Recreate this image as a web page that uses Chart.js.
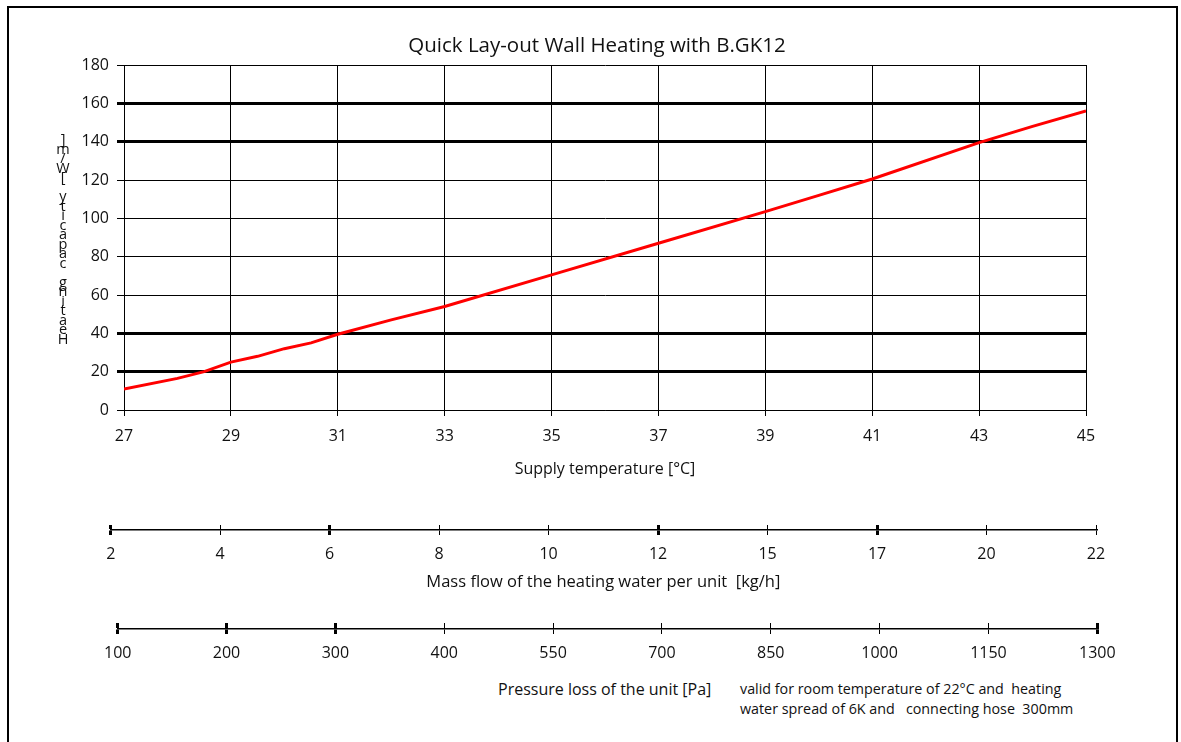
<!DOCTYPE html>
<html>
<head>
<meta charset="utf-8">
<script src="https://cdn.jsdelivr.net/npm/chart.js@4.4.0/dist/chart.umd.min.js"></script>
<style>
  html, body { margin: 0; padding: 0; background: #fff; }
  body { width: 1181px; height: 742px; position: relative; overflow: hidden; font-family: "Open Sans", sans-serif; color: #111; }
  .frame { position: absolute; left: 7px; top: 6px; width: 1167px; height: 780px; border: 2px solid #000; border-bottom: none; }
  canvas { position: absolute; left: 0; }
  #mainChart { top: 0; }
  #flowChart { top: 500px; }
  #lossChart { top: 600px; }
  /* stacked y title, read from the bottom up */
  .ylabel { position: absolute; left: 54px; top: 133px; width: 18px; height: 210px; display: flex; flex-direction: column-reverse; align-items: center; font-size: 14.5px; }
  .ylabel span { display: block; height: 9.5px; line-height: 9.5px; white-space: pre; }
  .ptitle { position: absolute; left: 498px; top: 678px; font-size: 16px; }
  .note { position: absolute; left: 740px; top: 679px; font-size: 14.3px; line-height: 20px; white-space: pre; }
</style>
</head>
<body>
<div class="frame"></div>
<canvas id="mainChart" width="1181" height="490"></canvas>
<canvas id="flowChart" width="1181" height="95"></canvas>
<canvas id="lossChart" width="1181" height="70"></canvas>
<div class="ylabel" id="ylabel"></div>
<div class="ptitle">Pressure loss of the unit [Pa]</div>
<div class="note">valid for room temperature of 22°C and  heating
water spread of 6K and   connecting hose  300mm</div>

<script>
// data
const supplyTemp = [27, 28, 28.5, 29, 29.5, 30, 30.5, 31, 32, 33, 35, 37, 39, 40, 41, 43, 44, 45];
const heatOutput = [11, 16.5, 20, 25, 28, 32, 35, 39.5, 47, 54, 70.5, 87, 103.5, 112, 120.5, 139.5, 148, 156];
const boldLevels = [20, 40, 140, 160];

const massFlowLabels = ["2", "4", "6", "8", "10", "12", "15", "17", "20", "22"];
const massFlowBold = ["2", "6", "12", "17"];
const pressureLabels = ["100", "200", "300", "400", "550", "700", "850", "1000", "1150", "1300"];
const pressureBold = ["100", "200", "300", "1300"];

const yTitle = "Heating capacity [W/m]";

const font16 = { family: "Open Sans", size: 16, weight: "normal" };
const ink = "#111";

// y title as stacked characters
const yBox = document.getElementById("ylabel");
for (const ch of yTitle) {
  const s = document.createElement("span");
  s.textContent = ch;
  yBox.appendChild(s);
}

// main diagram
new Chart(document.getElementById("mainChart"), {
  type: "line",
  data: {
    datasets: [
      {
        data: supplyTemp.map((t, i) => ({ x: t, y: heatOutput[i] })),
        borderColor: "#ff0000",
        borderWidth: 3,
        pointRadius: 0,
        tension: 0,
        fill: false,
      },
    ],
  },
  options: {
    responsive: false,
    animation: false,
    layout: { padding: { left: 0, right: 95, top: 0, bottom: 0 } },
    plugins: {
      legend: { display: false },
      tooltip: { enabled: false },
      title: {
        display: true,
        fullSize: false,
        // trailing spaces nudge the centred title a little to the left, as in the original
        text: "Quick Lay-out Wall Heating with B.GK12   ",
        color: ink,
        font: { family: "Open Sans", size: 20.5, weight: "normal" },
        padding: { top: 33.7, bottom: 6.7 },
      },
    },
    scales: {
      x: {
        type: "linear",
        min: 27,
        max: 45,
        ticks: { stepSize: 2, padding: 11, color: ink, font: font16, maxRotation: 0 },
        grid: { color: "#000", lineWidth: 1, tickLength: 6 },
        border: { color: "#000", width: 1 },
        title: { display: true, text: "Supply temperature [°C]", color: ink, font: font16, padding: { top: 0, bottom: 11 } },
        afterFit: (s) => { s.height = 80; },
      },
      y: {
        min: 0,
        max: 180,
        ticks: { stepSize: 20, padding: 8, color: ink, font: font16 },
        grid: {
          color: "#000",
          lineWidth: (c) => (c.tick && boldLevels.includes(c.tick.value) ? 3 : 1),
          tickWidth: (c) => (c.tick && boldLevels.includes(c.tick.value) ? 3 : 1),
          tickLength: 7,
        },
        border: { color: "#000", width: 1 },
        afterFit: (s) => { s.width = 124; },
      },
    },
  },
});

// extra scales under the diagram
const scaleChart = (id, labels, bold, title, pad, height) => {
  const isBold = (c) => c.tick && bold.includes(labels[c.tick.value]);
  return new Chart(document.getElementById(id), {
    type: "line",
    data: { labels: labels, datasets: [] },
    options: {
      responsive: false,
      animation: false,
      layout: { padding: pad },
      plugins: { legend: { display: false }, tooltip: { enabled: false } },
      scales: {
        x: {
          type: "category",
          offset: false,
          ticks: { padding: 10, color: ink, font: font16, autoSkip: false, maxRotation: 0 },
          grid: {
            offset: false,
            color: "#000",
            lineWidth: (c) => (isBold(c) ? 3 : 1),
            tickWidth: (c) => (isBold(c) ? 3 : 1),
            tickLength: 5,
          },
          border: { color: "#000", width: 1.5 },
          title: {
            display: !!title,
            text: title,
            color: ink,
            font: { family: "Open Sans", size: 16.5, weight: "normal" },
            padding: { top: 0, bottom: 3 },
          },
          afterFit: (s) => { s.height = height; },
        },
        y: { display: false },
      },
    },
  });
};

scaleChart("flowChart", massFlowLabels, massFlowBold,
  "Mass flow of the heating water per unit  [kg/h]",
  { left: 110.7, right: 85, top: 25, bottom: 0 }, 65);
scaleChart("lossChart", pressureLabels, pressureBold, "",
  { left: 117.7, right: 83.7, top: 23, bottom: 0 }, 41);
</script>
</body>
</html>
